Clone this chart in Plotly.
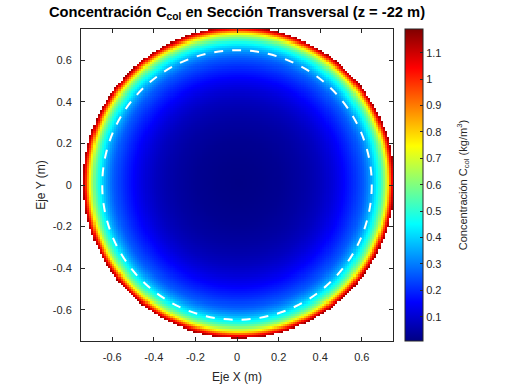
import numpy as np
import plotly.graph_objects as go

# ---- data ----
# radial concentration profile (distance from field centre, m) -> C_col (kg/m^3)
R_PROFILE = [0.00, 0.10, 0.20, 0.30, 0.35, 0.40, 0.45, 0.50, 0.55, 0.60,
             0.62, 0.64, 0.66, 0.68, 0.70, 0.715, 0.725, 0.735, 0.745, 0.75]
C_PROFILE = [0.010, 0.015, 0.025, 0.045, 0.060, 0.080, 0.110, 0.150, 0.200, 0.260,
             0.300, 0.350, 0.420, 0.500, 0.620, 0.750, 0.880, 1.020, 1.130, 1.180]
R_FIELD = 0.748            # radius of the computed section (m)
FIELD_CENTER = (0.008, 0.012)
GRID_STEP = 0.01
DOMAIN = (-0.75, 0.75)
R_DASHED = 0.648           # dashed reference circle radius (m)
C_RANGE = (0.008, 1.19)

X_TICKS = [-0.6, -0.4, -0.2, 0, 0.2, 0.4, 0.6]
X_TICK_TEXT = ["-0.6", "-0.4", "-0.2", "0", "0.2", "0.4", "0.6"]
CB_TICKS = [0.1, 0.2, 0.3, 0.4, 0.5, 0.6, 0.7, 0.8, 0.9, 1.0, 1.1]
CB_TICK_TEXT = ["0.1", "0.2", "0.3", "0.4", "0.5", "0.6", "0.7", "0.8", "0.9", "1", "1.1"]

# ---- build grid ----
centers = np.arange(DOMAIN[0] + GRID_STEP / 2, DOMAIN[1], GRID_STEP)
X, Y = np.meshgrid(centers, centers)
R = np.hypot(X - FIELD_CENTER[0], Y - FIELD_CENTER[1])
Z = np.interp(R, R_PROFILE, C_PROFILE)
Z[R > R_FIELD] = np.nan

jet = [[0.0, "rgb(0,0,131)"], [0.125, "rgb(0,0,255)"], [0.375, "rgb(0,255,255)"],
       [0.625, "rgb(255,255,0)"], [0.875, "rgb(255,0,0)"], [1.0, "rgb(128,0,0)"]]

AX = "#262626"
FONT = "Liberation Sans, Arial, sans-serif"

fig = go.Figure()
fig.add_trace(go.Heatmap(
    x=centers, y=centers, z=Z, colorscale=jet, zmin=C_RANGE[0], zmax=C_RANGE[1],
    hoverongaps=False,
    colorbar=dict(
        x=1.038, xanchor="left", xref="paper", y=0.5, yanchor="middle",
        len=1.0, lenmode="fraction", thickness=18, thicknessmode="pixels",
        xpad=0, ypad=0,
        outlinewidth=1, outlinecolor=AX,
        tickvals=CB_TICKS, ticktext=CB_TICK_TEXT, ticks="inside", ticklen=3,
        tickcolor=AX, tickfont=dict(family=FONT, size=11, color=AX),
    ),
))

fig.add_shape(type="circle", xref="x", yref="y",
              x0=-R_DASHED, y0=-R_DASHED, x1=R_DASHED, y1=R_DASHED,
              line=dict(color="white", width=2, dash="dash"))

axis_common = dict(
    range=list(DOMAIN), tickvals=X_TICKS, ticktext=X_TICK_TEXT,
    ticks="inside", ticklen=4, tickcolor=AX, showline=True, linecolor=AX,
    linewidth=1, mirror="ticks", showgrid=False, zeroline=False,
    automargin=False, ticklabelstandoff=6,
    tickfont=dict(family=FONT, size=11, color=AX),
)
fig.update_xaxes(**axis_common, title=dict(text="Eje X (m)", standoff=10,
                 font=dict(family=FONT, size=12, color=AX)))
fig.update_yaxes(**axis_common, title=dict(text="Eje Y (m)", standoff=4,
                 font=dict(family=FONT, size=12, color=AX)))

fig.add_annotation(
    text="Concentración C<sub>col</sub> (kg/m<sup>3</sup>)",
    xref="paper", yref="paper", x=1.225, y=0.50, xanchor="center", yanchor="middle",
    textangle=-90, showarrow=False, font=dict(family=FONT, size=11, color=AX))

fig.update_layout(
    width=512, height=384,
    margin=dict(l=81, r=119, t=29, b=43, autoexpand=False),
    paper_bgcolor="white", plot_bgcolor="white",
    title=dict(text="<b>Concentración C<sub>col</sub> en Sección Transversal (z = -22 m)</b>",
               x=0.5, xref="paper", xanchor="center", y=0.969, yref="container",
               yanchor="middle", font=dict(family=FONT, size=14.7, color="black")),
    showlegend=False,
)

fig.write_html("out.html", config={"displayModeBar": False},
               post_script="document.body.style.margin='0px';")
